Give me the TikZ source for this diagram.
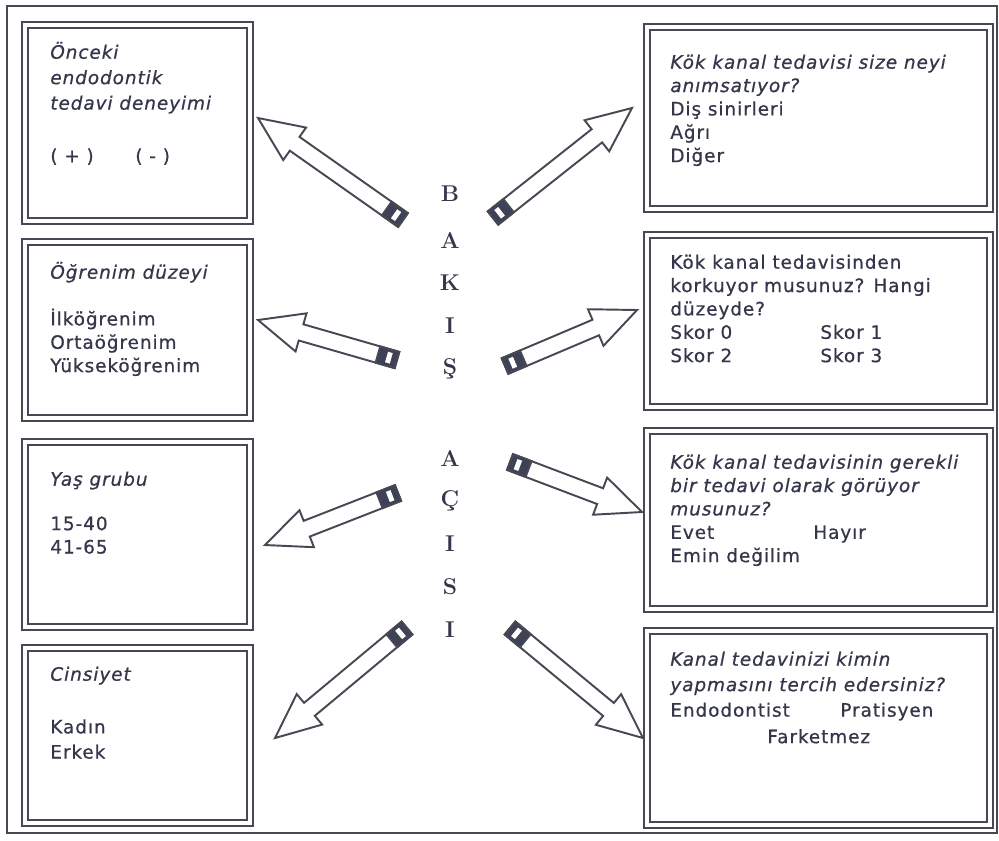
\documentclass[tikz,border=0pt]{standalone}
\usepackage{fontspec}
\setsansfont{DejaVu Sans}[LetterSpace=5,FakeBold=0.7]
\usetikzlibrary{calc,fit}
\definecolor{inkc}{RGB}{52,54,74}
\definecolor{linec}{RGB}{72,72,84}
\definecolor{tailc}{RGB}{62,66,86}
\newlength{\pxu}\setlength{\pxu}{0.02cm}
\newcommand{\topfix}{\rule{0pt}{11pt}}
% block arrow from tail #1 to tip #2, dark band at the tail
\newcommand{\pencilarrow}[2]{%
  \coordinate (#1b) at ($(#2)!25.5pt!(#1)$);
  \coordinate (#1e) at ($(#1)!11.3pt!(#2)$);
  \coordinate (#1s) at ($(#1)!3.4pt!(#2)$);
  \coordinate (#1z) at ($(#1)!6.2pt!(#2)$);
  \draw[pencil] ($(#1)!4.8pt!90:(#2)$) -- ($(#1b)!4.8pt!90:(#2)$) -- ($(#1b)!11.3pt!90:(#2)$) -- (#2)
    -- ($(#1b)!11.3pt!-90:(#2)$) -- ($(#1b)!4.8pt!-90:(#2)$) -- ($(#1)!4.8pt!-90:(#2)$) -- cycle;
  \draw[pencil,fill=tailc] ($(#1)!4.8pt!90:(#2)$) -- ($(#1e)!4.8pt!90:(#2)$) -- ($(#1e)!4.8pt!-90:(#2)$) -- ($(#1)!4.8pt!-90:(#2)$) -- cycle;
  \fill[white] ($(#1s)!3.1pt!90:(#2)$) -- ($(#1z)!3.1pt!90:(#2)$) -- ($(#1z)!3.1pt!-90:(#2)$) -- ($(#1s)!3.1pt!-90:(#2)$) -- cycle;
}
\begin{document}
\begin{tikzpicture}[x=0.02cm,y=-0.02cm,qbox/.style={draw=linec,double,double distance=2.55pt,line width=0.85pt,inner sep=0},frm/.style={draw=linec,line width=1.1pt},pencil/.style={draw=linec,line width=1.1pt,fill=white,line join=miter},txt/.style={anchor=north west,align=left,inner sep=0,text=inkc,font=\sffamily\fontsize{10.5}{13.3}\selectfont},ltr/.style={text=inkc,font=\rmfamily\bfseries\fontsize{13}{14}\selectfont}]
\useasboundingbox (0,0) rectangle (999,840);
\draw[frm] (7,6) rectangle (997,833);

\node[qbox,fit={(25,25) (250,221)}] (onc) {};
\node[qbox,fit={(25,242) (250,418)}] (ogr) {};
\node[qbox,fit={(25,442) (250,627)}] (yas) {};
\node[qbox,fit={(25,648) (250,823)}] (cns) {};
\node[qbox,fit={(647,27) (990,209)}] (nsy) {};
\node[qbox,fit={(647,235) (990,407)}] (krk) {};
\node[qbox,fit={(647,431) (990,609)}] (grk) {};
\node[qbox,fit={(647,631) (990,825)}] (kim) {};

\node[txt] (onct) at (50,39) {\topfix\textit{Önceki}\\[1.2pt]\textit{endodontik}\\[1.2pt]\textit{tedavi deneyimi}\\[16.7pt]\makebox[85\pxu][l]{( + )}( - )};
\node[txt] (ogrt) at (50,259) {\topfix\textit{Öğrenim düzeyi}\\[13.3pt]İlköğrenim\\Ortaöğrenim\\Yükseköğrenim};
\node[txt] (yast) at (50,466) {\topfix\textit{Yaş grubu}\\[12pt]15-40\\41-65};
\node[txt] (cnst) at (50,661) {\topfix\textit{Cinsiyet}\\[16.7pt]Kadın\\[1pt]Erkek};
\node[txt] (nsyt) at (670,49) {\topfix\textit{Kök kanal tedavisi size neyi}\\\textit{anımsatıyor?}\\Diş sinirleri\\Ağrı\\Diğer};
\node[txt] (krkt) at (670,249) {\topfix Kök kanal tedavisinden\\korkuyor musunuz? Hangi\\düzeyde?\\\makebox[150\pxu][l]{Skor 0}Skor 1\\\makebox[150\pxu][l]{Skor 2}Skor 3};
\node[txt] (grkt) at (670,449) {\topfix\textit{Kök kanal tedavisinin gerekli}\\\textit{bir tedavi olarak görüyor}\\\textit{musunuz?}\\\makebox[143\pxu][l]{Evet}Hayır\\Emin değilim};
\node[txt] (kimt) at (670,646) {\topfix\textit{Kanal tedavinizi kimin}\\[1.2pt]\textit{yapmasını tercih edersiniz?}\\[1.2pt]\makebox[170\pxu][l]{Endodontist}Pratisyen\\[1.8pt]\hspace*{97\pxu}Farketmez};

\foreach \ch/\yy [count=\i] in {B/194,A/240,K/283,I/326,Ş/369,A/458,Ç/501,I/544,S/587,I/630}
  \node[ltr] (c\i) at (450,\yy) {\ch};

\coordinate (t1) at (403,220); \coordinate (h1) at (258,118);
\coordinate (t2) at (493,218); \coordinate (h2) at (632,108);
\coordinate (t3) at (397,360); \coordinate (h3) at (258,320);
\coordinate (t4) at (505,366); \coordinate (h4) at (637,310);
\coordinate (t5) at (398,493); \coordinate (h5) at (265,545);
\coordinate (t6) at (510,462); \coordinate (h6) at (642,512);
\coordinate (t7) at (407,628); \coordinate (h7) at (275,738);
\coordinate (t8) at (510,628); \coordinate (h8) at (643,738);
\pencilarrow{t1}{h1}
\pencilarrow{t2}{h2}
\pencilarrow{t3}{h3}
\pencilarrow{t4}{h4}
\pencilarrow{t5}{h5}
\pencilarrow{t6}{h6}
\pencilarrow{t7}{h7}
\pencilarrow{t8}{h8}
\end{tikzpicture}
\end{document}
